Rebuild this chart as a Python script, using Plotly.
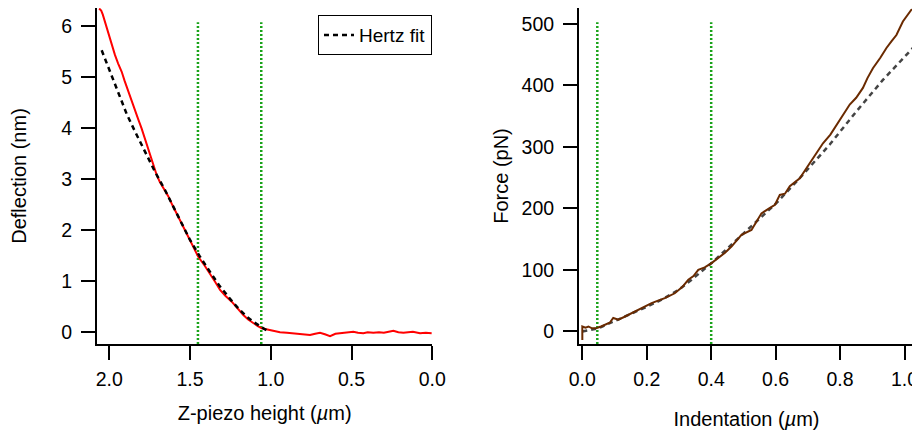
import plotly.graph_objects as go

# ---------------- Left panel: deflection vs Z-piezo height ----------------
z_data = [2.063, 2.050, 2.040, 2.027, 2.012, 1.996, 1.980, 1.965, 1.945, 1.923,
          1.905, 1.882, 1.862, 1.841, 1.820, 1.800, 1.785, 1.768, 1.752, 1.737,
          1.720, 1.706, 1.686, 1.660, 1.635, 1.610, 1.583, 1.550, 1.521, 1.485,
          1.449, 1.410, 1.376, 1.345, 1.314, 1.280, 1.242, 1.205, 1.170, 1.140,
          1.108, 1.080, 1.056, 1.030, 1.005, 0.985, 0.963, 0.943, 0.900, 0.861,
          0.820, 0.790, 0.757, 0.725, 0.695, 0.665, 0.633, 0.600, 0.575, 0.551,
          0.520, 0.489, 0.460, 0.427, 0.400, 0.365, 0.330, 0.300, 0.270, 0.241,
          0.210, 0.179, 0.150, 0.120, 0.076, 0.040, 0.004]
defl_data = [6.34, 6.30, 6.22, 6.08, 5.93, 5.75, 5.60, 5.43, 5.26, 5.10,
             4.92, 4.71, 4.52, 4.31, 4.16, 3.99, 3.85, 3.66, 3.52, 3.38,
             3.22, 3.07, 2.93, 2.80, 2.66, 2.49, 2.32, 2.12, 1.93, 1.70,
             1.47, 1.30, 1.145, 0.98, 0.82, 0.70, 0.59, 0.45, 0.33, 0.24,
             0.165, 0.11, 0.067, 0.05, 0.03, 0.02, 0.00, -0.01, -0.02, -0.03,
             -0.04, -0.05, -0.065, -0.04, -0.02, -0.05, -0.085, -0.04, -0.03, -0.02,
             -0.01, 0.00, -0.02, -0.03, -0.01, -0.02, -0.01, -0.02, 0.00, 0.02,
             -0.01, -0.02, -0.01, 0.00, -0.03, -0.02, -0.03]

z_fit = [2.047, 1.996, 1.944, 1.892, 1.841, 1.789, 1.717, 1.655, 1.593, 1.545,
         1.500, 1.438, 1.400, 1.356, 1.315, 1.273, 1.230, 1.191, 1.150, 1.108,
         1.075, 1.046, 1.015]
defl_fit = [5.52, 5.10, 4.66, 4.27, 3.93, 3.60, 3.14, 2.78, 2.39, 2.08,
            1.80, 1.47, 1.28, 1.08, 0.89, 0.72, 0.56, 0.425, 0.30, 0.196,
            0.12, 0.067, 0.01]

z_marks = [1.451, 1.059]
z_mark_span = [-0.24, 6.07]

# ---------------- Right panel: force vs indentation ----------------
ind_data = [0.000, 0.000, 0.010, 0.019, 0.030, 0.045, 0.058, 0.070, 0.085, 0.096,
            0.112, 0.128, 0.143, 0.158, 0.174, 0.195, 0.215, 0.235, 0.256, 0.287,
            0.310, 0.329, 0.345, 0.360, 0.380, 0.401, 0.422, 0.443, 0.463, 0.494,
            0.525, 0.540, 0.556, 0.580, 0.598, 0.613, 0.629, 0.644, 0.660, 0.675,
            0.695, 0.716, 0.730, 0.747, 0.770, 0.789, 0.810, 0.830, 0.850, 0.871,
            0.885, 0.902, 0.925, 0.944, 0.960, 0.975, 0.995, 1.010, 1.021, 1.040]
force_data = [-14, 8, 6, 8, 5, 5.5, 8, 11, 14, 21.8,
              19, 23, 27, 30, 35, 40, 46, 50, 54, 62,
              72, 84, 90, 100, 104, 111, 119, 128, 138, 157,
              165, 178, 192, 200, 206, 222, 224, 236, 242, 249,
              265, 282, 292, 306, 320, 336, 352, 369, 380, 396,
              412, 428, 445, 461, 472, 482, 504, 516, 523, 524]

ind_fit = [0.000, 0.050, 0.101, 0.150, 0.200, 0.246, 0.300, 0.339, 0.401, 0.473,
           0.556, 0.603, 0.685, 0.768, 0.851, 0.933, 1.026]
force_fit = [0, 5, 17, 28, 40, 51.5, 68, 84, 111, 146,
             187, 209, 255, 304, 358, 409, 461]

ind_marks = [0.0465, 0.40]
ind_mark_span = [-20.5, 503]

FONT = "Liberation Sans, Arial, Helvetica, sans-serif"
GREEN = "#19a319"

fig = go.Figure()

for v in z_marks:
    fig.add_trace(go.Scatter(x=[v, v], y=z_mark_span, mode="lines",
                             line=dict(color=GREEN, width=2.5, dash="2px,2px"),
                             showlegend=False, xaxis="x", yaxis="y", hoverinfo="skip"))
fig.add_trace(go.Scatter(x=z_data, y=defl_data, mode="lines",
                         line=dict(color="#ff0000", width=2),
                         showlegend=False, xaxis="x", yaxis="y"))
fig.add_trace(go.Scatter(x=z_fit, y=defl_fit, mode="lines", name="Hertz fit",
                         line=dict(color="#000000", width=2.5, dash="5px,4px"),
                         showlegend=True, xaxis="x", yaxis="y"))

for v in ind_marks:
    fig.add_trace(go.Scatter(x=[v, v], y=ind_mark_span, mode="lines",
                             line=dict(color=GREEN, width=2.5, dash="2px,2px"),
                             showlegend=False, xaxis="x2", yaxis="y2", hoverinfo="skip"))
fig.add_trace(go.Scatter(x=ind_fit, y=force_fit, mode="lines",
                         line=dict(color="#444444", width=2.5, dash="5px,4px"),
                         showlegend=False, xaxis="x2", yaxis="y2"))
fig.add_trace(go.Scatter(x=ind_data, y=force_data, mode="lines",
                         line=dict(color="#6a2a00", width=2),
                         showlegend=False, xaxis="x2", yaxis="y2"))

axis_common = dict(showline=True, linecolor="black", linewidth=2, ticks="outside",
                   ticklen=14, tickwidth=2, tickcolor="black", showgrid=False,
                   zeroline=False, automargin=False,
                   tickfont=dict(size=19.5, color="black", family=FONT))
title_font = dict(size=20, family=FONT, color="black")

# page body adds an 8px offset; the figure is sized so the plot areas land
# at the reference positions
fig.update_layout(
    template="none",
    width=912, height=427,
    margin=dict(l=89, r=6, t=0, b=91),
    paper_bgcolor="white", plot_bgcolor="white",
    font=dict(family=FONT, color="black", size=19),
    xaxis=dict(domain=[0, 0.4104], range=[2.076, 0], anchor="y",
               tickvals=[2.0, 1.5, 1.0, 0.5, 0.0], ticktext=["2.0", "1.5", "1.0", "0.5", "0.0"],
               ticklabelstandoff=3,
               title=dict(text="Z-piezo height (<i>µ</i>m)", standoff=17, font=title_font),
               **axis_common),
    yaxis=dict(domain=[0, 1], range=[-0.24, 6.35], anchor="x",
               tickvals=[0, 1, 2, 3, 4, 5, 6],
               ticklabelstandoff=5,
               title=dict(text="Deflection (nm)", standoff=34, font=title_font),
               **axis_common),
    xaxis2=dict(domain=[0.590, 1.0], range=[-0.0102, 1.0295], anchor="y2",
                tickvals=[0, 0.2, 0.4, 0.6, 0.8, 1.0],
                ticktext=["0.0", "0.2", "0.4", "0.6", "0.8", "1.0"],
                ticklabelstandoff=3,
                title=dict(text="Indentation (<i>µ</i>m)", standoff=23, font=title_font),
                **axis_common),
    yaxis2=dict(domain=[0, 1], range=[-20.5, 526], anchor="x2",
                tickvals=[0, 100, 200, 300, 400, 500],
                ticklabelstandoff=5,
                title=dict(text="Force (pN)", standoff=8, font=title_font),
                **axis_common),
    legend=dict(x=0.2705, y=0.979, xanchor="left", yanchor="top",
                bgcolor="white", bordercolor="black", borderwidth=1,
                font=dict(size=19, family=FONT), itemwidth=30,
                tracegroupgap=0),
    showlegend=True,
)

fig.write_html("out.html")
